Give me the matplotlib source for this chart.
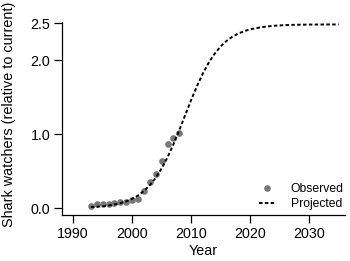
import numpy as np
import matplotlib
matplotlib.use("Agg")
import matplotlib.pyplot as plt

# observed shark watchers (relative to current)
obs_year = [1993, 1994, 1995, 1996, 1997, 1998, 1999, 2000, 2001, 2002,
            2003, 2004, 2005, 2006, 2007, 2008]
obs_value = [0.03, 0.05, 0.055, 0.06, 0.065, 0.085, 0.085, 0.11, 0.125, 0.23,
             0.35, 0.455, 0.635, 0.87, 0.955, 1.01]

# projected curve
proj_year = [1993, 1994, 1995, 1996, 1997, 1998, 1999, 2000, 2001, 2002,
             2003, 2004, 2005, 2006, 2007, 2008, 2009, 2010, 2011, 2012,
             2013, 2014, 2015, 2016, 2017, 2018, 2019, 2020, 2022, 2024,
             2026, 2028, 2030, 2035]
proj_value = [0.013, 0.018, 0.025, 0.035, 0.048, 0.066, 0.091, 0.125, 0.170, 0.231,
              0.310, 0.411, 0.537, 0.688, 0.864, 1.057, 1.260, 1.462, 1.653, 1.824,
              1.971, 2.091, 2.188, 2.263, 2.320, 2.363, 2.395, 2.420, 2.450, 2.468,
              2.477, 2.482, 2.484, 2.486]

xticks = [1990, 2000, 2010, 2020, 2030]
yticks = [0.0, 1.0, 2.0, 2.5]

plt.rcParams["font.family"] = ["Liberation Sans", "DejaVu Sans"]

fig = plt.figure(figsize=(3.5, 2.61), dpi=100)
ax = fig.add_axes([0.177, 0.176, 0.809, 0.74])

ax.plot(obs_year, obs_value, "o", color="#777777", markersize=4.8,
        markeredgewidth=0, label="Observed", zorder=2)
ax.plot(proj_year, proj_value, color="black", linewidth=1.4,
        linestyle=(0, (1.8, 1.2)), label="Projected", zorder=3)

ax.set_xlim(1988.1, 2036.1)
ax.set_ylim(-0.095, 2.52)
ax.set_xticks(xticks)
ax.set_yticks(yticks)
ax.set_yticklabels([f"{v:.1f}" for v in yticks])

for s in ["top", "right"]:
    ax.spines[s].set_visible(False)
for s in ["left", "bottom"]:
    ax.spines[s].set_linewidth(0.9)

ax.tick_params(direction="out", length=6, width=0.9, labelsize=10.3, pad=2.5)
ax.set_xlabel("Year", fontsize=10.3, labelpad=2)
ax.set_ylabel("Shark watchers (relative to current)", fontsize=10.4)
ax.yaxis.set_label_coords(-0.163, 0.52)

ax.legend(loc="lower right", bbox_to_anchor=(0.995, 0.025), frameon=False,
          fontsize=8.7, handlelength=1.3, handletextpad=1.3,
          labelspacing=0.25, borderpad=0, borderaxespad=0)

fig.savefig("out.png", dpi=100)
